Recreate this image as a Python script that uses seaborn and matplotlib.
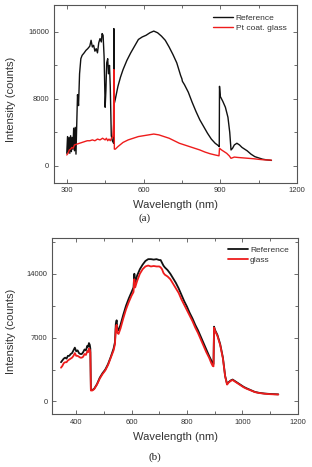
import matplotlib
matplotlib.use("Agg")
import matplotlib.pyplot as plt
import seaborn as sns
import pandas as pd
from matplotlib.ticker import MultipleLocator

# ---------------- data: panel (a) ----------------
ref_a_nm = [300, 303, 306, 309, 312, 315, 318, 321, 324, 327, 330, 333, 336, 339, 342, 346,
            350, 355, 360, 368, 375, 382, 390, 395, 400, 405, 410, 415, 420, 425, 430, 435,
            438, 442, 446, 450, 453, 456, 460, 463, 467, 470, 474, 478, 482, 483, 484, 485,
            486, 490, 500, 510, 520, 535, 550, 565, 580, 595, 610, 625, 640, 655, 670, 685,
            700, 715, 730, 745, 750, 752, 760, 775, 790, 805, 820, 835, 850, 865, 880, 893,
            896, 897, 900, 910, 920, 930, 937, 942, 948, 955, 965, 975, 985, 995, 1005, 1020,
            1035, 1050, 1065, 1080, 1100]
ref_a_val = [1500, 3500, 1600, 3400, 1500, 3600, 1700, 3400, 2000, 4500, 1800, 4600, 1400, 5000, 8500, 7200,
             11000, 12800, 13200, 13500, 13800, 14000, 14300, 15000, 14200, 14400, 13700, 14000, 13500, 14700, 15200, 14800,
             15800, 15600, 13000, 7000, 9000, 12300, 12800, 11000, 12000, 9500, 3600, 3000, 2800, 2700, 16400, 15500,
             7500, 8000, 9500, 10600, 11500, 12600, 13500, 14300, 15100, 15400, 15600, 15900, 16100, 15900, 15500, 15000,
             14200, 13300, 12300, 10800, 10400, 10100, 9700, 8800, 7600, 6500, 5500, 4700, 3900, 3200, 2700, 2400,
             2300, 9500, 8300, 7700, 7000, 5800, 4000, 1900, 2100, 2500, 2700, 2500, 2200, 2000, 1800, 1400,
             1100, 950, 800, 720, 650]

pt_a_nm = [300, 305, 310, 315, 320, 325, 330, 340, 350, 360, 370, 380, 390, 400, 410, 420,
           430, 440, 445, 450, 455, 460, 465, 470, 475, 480, 483, 484, 485, 486, 490, 500,
           520, 540, 560, 580, 600, 620, 640, 660, 680, 700, 720, 740, 760, 780, 800, 820,
           840, 860, 880, 895, 897, 905, 915, 925, 935, 942, 955, 970, 990, 1010, 1030, 1050,
           1070, 1090, 1100]
pt_a_val = [1300, 1500, 1900, 2000, 2200, 2100, 2500, 2600, 2700, 2800, 2900, 3000, 3000, 3100, 3000, 3200,
            3100, 3300, 3200, 3100, 3300, 3000, 3200, 3000, 3300, 3500, 5000, 11500, 10000, 2000, 2000, 2300,
            2800, 3100, 3300, 3500, 3600, 3700, 3800, 3700, 3500, 3300, 3000, 2700, 2500, 2300, 2100, 1900,
            1650, 1450, 1300, 1200, 2100, 1900, 1700, 1500, 1200, 900, 1050, 1000, 950, 900, 850, 780,
            720, 700, 680]

# ---------------- data: panel (b) ----------------
b_nm = [345, 350, 355, 360, 365, 370, 375, 380, 385, 390, 395, 400, 405, 410, 415, 420,
        425, 430, 435, 440, 443, 446, 449, 451, 453, 458, 465, 475, 485, 495, 505, 515,
        525, 535, 540, 543, 546, 549, 553, 560, 570, 580, 590, 600, 607, 610, 613, 620,
        630, 640, 650, 660, 670, 680, 690, 700, 705, 710, 715, 720, 730, 740, 750, 760,
        770, 780, 790, 800, 810, 820, 830, 840, 850, 860, 870, 880, 888, 893, 896, 898,
        902, 910, 920, 930, 938, 945, 950, 958, 965, 975, 985, 995, 1005, 1015, 1030, 1045,
        1060, 1080, 1100, 1115, 1130]
ref_b_val = [4300, 4500, 4700, 4800, 4700, 5000, 5000, 5200, 5300, 5600, 5900, 5500, 5600, 5300, 5200, 5200,
             5400, 5700, 5600, 6100, 6000, 6400, 6200, 5800, 1300, 1250, 1400, 1900, 2600, 3100, 3500, 4100,
             4900, 5800, 6500, 8500, 8900, 7900, 7800, 8400, 9500, 10500, 11300, 12000, 12500, 14000, 13000, 13800,
             14500, 15000, 15400, 15600, 15600, 15550, 15600, 15500, 15500, 15200, 14900, 14700, 14400, 14000, 13500, 13000,
             12400, 11700, 11000, 10400, 9700, 9100, 8400, 7800, 7100, 6400, 5700, 5000, 4500, 4200, 4100, 8200,
             7800, 7300, 6300, 4800, 2800, 1900, 2100, 2300, 2400, 2200, 2000, 1800, 1600, 1450, 1250, 1050,
             950, 870, 820, 800, 780]
glass_b_val = [3700, 3900, 4200, 4300, 4300, 4500, 4600, 4700, 4800, 5000, 5300, 5000, 5000, 4900, 4800, 4800,
               4900, 5200, 5100, 5500, 5400, 5800, 5700, 5400, 1200, 1200, 1350, 1850, 2500, 3000, 3400, 4000,
               4800, 5600, 6300, 8000, 8400, 7500, 7400, 8000, 9100, 10100, 10900, 11600, 12000, 13400, 12500, 13200,
               14000, 14500, 14800, 14900, 14800, 14850, 14800, 14800, 14700, 14500, 14100, 13900, 13700, 13400, 12900, 12400,
               11900, 11200, 10600, 10000, 9400, 8800, 8100, 7500, 6800, 6100, 5400, 4800, 4200, 3900, 3850, 8100,
               7700, 7200, 6200, 4700, 2750, 1850, 2050, 2250, 2350, 2150, 1950, 1750, 1550, 1400, 1220, 1030,
               930, 850, 800, 780, 760]

labels_a = ["Reference", "Pt coat. glass"]
labels_b = ["Reference", "glass"]

# ---------------- figure ----------------
sns.set_theme(style="white")
plt.rcParams["font.family"] = ["Liberation Sans", "DejaVu Sans"]

BLACK = "#111111"
RED = "#ee1c1c"
AXC = "#555555"
TXT = "#333333"

fig = plt.figure(figsize=(3.12, 4.67), dpi=100)
ax1 = fig.add_axes([0.173, 0.609, 0.779, 0.380])
ax2 = fig.add_axes([0.168, 0.113, 0.786, 0.377])

sns.lineplot(x=ref_a_nm, y=ref_a_val, ax=ax1, color=BLACK, lw=1.0, label=labels_a[0],
             estimator=None, sort=False)
sns.lineplot(x=pt_a_nm, y=pt_a_val, ax=ax1, color=RED, lw=1.0, label=labels_a[1],
             estimator=None, sort=False)

sns.lineplot(x=b_nm, y=ref_b_val, ax=ax2, color=BLACK, lw=1.3, label=labels_b[0],
             estimator=None, sort=False)
sns.lineplot(x=b_nm, y=glass_b_val, ax=ax2, color=RED, lw=1.3, label=labels_b[1],
             estimator=None, sort=False)


def style(ax, xlim, ylim, xmaj, xmin, ymaj, ymin):
    ax.set_xlim(*xlim)
    ax.set_ylim(*ylim)
    ax.xaxis.set_major_locator(MultipleLocator(xmaj))
    ax.xaxis.set_minor_locator(MultipleLocator(xmin))
    ax.yaxis.set_major_locator(MultipleLocator(ymaj))
    ax.yaxis.set_minor_locator(MultipleLocator(ymin))
    ax.tick_params(which="both", direction="in", top=True, right=True,
                   bottom=True, left=True, colors=AXC, labelcolor=TXT)
    ax.tick_params(which="major", length=3, width=0.6, labelsize=5.5, pad=3.5)
    ax.tick_params(which="minor", length=2, width=0.6)
    for s in ax.spines.values():
        s.set_color(AXC)
        s.set_linewidth(0.8)
    ax.set_xlabel("Wavelength (nm)", fontsize=8, color=TXT)
    ax.set_ylabel("Intensity (counts)", fontsize=8, color=TXT)


style(ax1, (250, 1200), (-2000, 19200), 300, 150, 8000, 4000)
style(ax2, (314, 1200), (-1400, 17900), 200, 100, 7000, 3500)

ax1.xaxis.set_label_coords(0.5, -0.097)
ax1.yaxis.set_label_coords(-0.156, 0.47)
ax2.xaxis.set_label_coords(0.5, -0.10)
ax2.yaxis.set_label_coords(-0.148, 0.47)

ax1.legend(loc="upper left", bbox_to_anchor=(0.654, 0.947), frameon=False, fontsize=6,
           borderpad=0, borderaxespad=0, handlelength=2.4, handletextpad=0.35,
           labelspacing=0.25, labelcolor=TXT)
ax2.legend(loc="upper left", bbox_to_anchor=(0.716, 0.956), frameon=False, fontsize=6,
           borderpad=0, borderaxespad=0, handlelength=2.4, handletextpad=0.25,
           labelspacing=0.25, labelcolor=TXT)

fig.text(145 / 312, 1 - 218 / 467, "(a)", ha="center", va="center", fontsize=8,
         family=["Liberation Serif", "DejaVu Serif"], color="#222222")
fig.text(155 / 312, 1 - 456.7 / 467, "(b)", ha="center", va="center", fontsize=8,
         family=["Liberation Serif", "DejaVu Serif"], color="#222222")

fig.savefig("out.png", dpi=100)
